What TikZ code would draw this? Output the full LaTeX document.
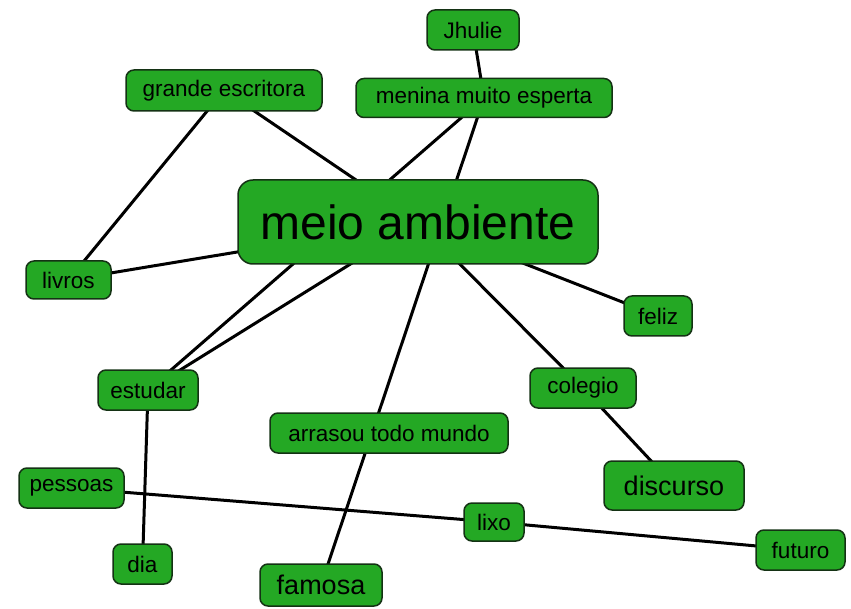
\documentclass[tikz,border=0pt]{standalone}
\usepackage{fontspec}
\setmainfont{Liberation Sans}
\definecolor{boxgreen}{RGB}{36,168,36}
\definecolor{boxedge}{RGB}{20,50,20}
\pgfdeclarelayer{bg}
\pgfsetlayers{bg,main}
\tikzset{
  cbox/.style={draw=boxedge, line width=1.5pt, fill=boxgreen, rounded corners=8pt, inner sep=0pt, text=black, font=\fontsize{22.5}{26}\selectfont},
  link/.style={line width=3pt, black},
}
\begin{document}
\begin{tikzpicture}[x=1pt,y=-1pt]
\useasboundingbox (0,0) rectangle (851,609);
% nodes
\node[cbox, minimum width=92, minimum height=40] (jhulie) at (473,30) {Jhulie};
\node[cbox, minimum width=256, minimum height=39] (menina) at (484,98) {menina muito esperta};
\node[cbox, minimum width=196, minimum height=41] (grande) at (224,90.5) {grande escritora};
\node[cbox, minimum width=360, minimum height=84, rounded corners=15pt, font=\fontsize{48}{54}\selectfont] (meio) at (418,222) {meio ambiente};
\node[cbox, minimum width=85, minimum height=38] (livros) at (68.5,280) {livros};
\node[cbox, minimum width=68, minimum height=40] (feliz) at (658,316) {feliz};
\node[cbox, minimum width=100, minimum height=40] (estudar) at (148,390) {estudar};
\node[cbox, minimum width=106, minimum height=40] (colegio) at (583,388) {colegio};
\node[cbox, minimum width=238, minimum height=40] (arrasou) at (389,433) {arrasou todo mundo};
\node[cbox, minimum width=140, minimum height=49, font=\fontsize{27}{30}\selectfont] (discurso) at (674,485.5) {discurso};
\node[cbox, minimum width=105, minimum height=40] (pessoas) at (71.5,488) {pessoas};
\node[cbox, minimum width=60, minimum height=38] (lixo) at (494,522) {lixo};
\node[cbox, minimum width=89, minimum height=40] (futuro) at (800.5,550) {futuro};
\node[cbox, minimum width=59, minimum height=40] (dia) at (142.5,564) {dia};
\node[cbox, minimum width=122, minimum height=42, font=\fontsize{27}{30}\selectfont] (famosa) at (321,585) {famosa};
% connectors (behind nodes)
\begin{pgfonlayer}{bg}
\draw[link] (jhulie.center) -- (menina.center);
\draw[link] (menina.center) -- (famosa.center);
\draw[link] (menina.center) -- (estudar.center);
\draw[link] (grande.center) -- (meio.center);
\draw[link] (grande.center) -- (livros.center);
\draw[link] (livros.center) -- (meio.center);
\draw[link] (feliz.center) -- (meio.center);
\draw[link] (colegio.center) -- (meio.center);
\draw[link] (estudar.center) -- (meio.center);
\draw[link] (colegio.center) -- (discurso.center);
\draw[link] (estudar.center) -- (dia.center);
\draw[link] (pessoas.center) -- (lixo.center);
\draw[link] (lixo.center) -- (futuro.center);
\end{pgfonlayer}
\end{tikzpicture}
\end{document}
